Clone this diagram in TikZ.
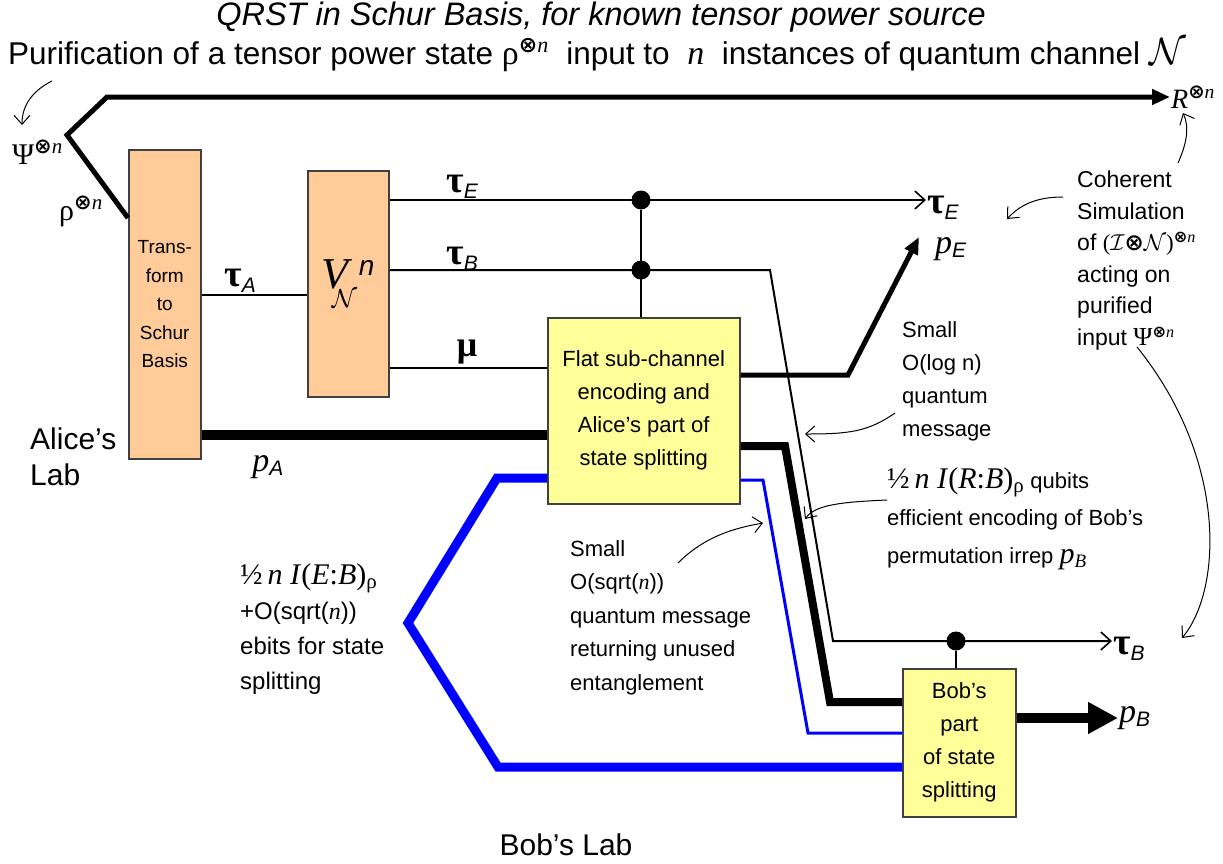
\RequirePackage{fix-cm}
\documentclass[tikz,border=0pt]{standalone}
\usepackage{fontspec}
\setmainfont{Liberation Sans}
\newfontfamily\qsym{Liberation Serif}
\newfontfamily\qdej{DejaVu Sans}
\usepackage{tikz}
\usetikzlibrary{arrows.meta}
\definecolor{qrstPeach}{HTML}{FFCC99}
\definecolor{qrstYellow}{HTML}{FFFF99}
\definecolor{qrstBlue}{HTML}{0000FF}
\definecolor{qrstEdge}{HTML}{404040}
\newcommand{\otn}{\textsuperscript{{\qdej\bfseries ⊗}{\qsym\itshape n}}}
\newcommand{\taulbl}[1]{{\fontsize{38}{38}\selectfont\qsym\bfseries τ}\raisebox{-6pt}{\fontsize{21}{21}\selectfont\itshape #1}}
\newcommand{\plbl}[1]{{\fontsize{34}{34}\selectfont\qsym\itshape p}\raisebox{-4pt}{\fontsize{21}{21}\selectfont\itshape #1}}

\begin{document}
\begin{tikzpicture}[x=1pt, y=-1pt,
  box/.style={draw=qrstEdge, line width=1.5pt, inner sep=0pt, align=center, anchor=north west},
  lbl/.style={inner sep=1pt},
  txt/.style={inner sep=0pt, align=left, anchor=north west},
  wire/.style={line width=2pt},
  barb/.style={-{Straight Barb[length=10pt,width=18pt,line width=1.6pt]}},
  note/.style={line width=1pt, -{Straight Barb[length=9pt,width=16pt,line width=1pt]}},
  dot/.style={circle, fill=black, inner sep=0pt, minimum size=19pt}]
  \useasboundingbox (0,0) rectangle (1223,863);

  % Title zone
  \node[inner sep=0pt, font=\fontsize{32.5}{36}\selectfont\itshape] (title) at (601,17) {QRST in Schur Basis, for known tensor power source};
  \node[inner sep=0pt, anchor=base west, font=\fontsize{31.5}{36}\selectfont] (purif) at (8,64)
    {Purification of a tensor power state {\fontsize{34}{34}\selectfont\qsym ρ}\otn\ \ input to \ {\fontsize{34}{34}\selectfont\qsym\itshape n} \ instances of quantum channel {\fontsize{38}{38}\selectfont$\mathcal{N}$}};

  % Boxes
  \node[box, fill=qrstPeach, minimum width=72pt, minimum height=309pt, font=\fontsize{19}{28.5}\selectfont] (trans) at (128,149) {Trans-\\form\\to\\Schur\\Basis};
  \node[box, fill=qrstPeach, minimum width=81pt, minimum height=226pt] (vch) at (307,170)
    {{\fontsize{44}{44}\selectfont\qsym\itshape V}\kern-17pt\raisebox{-19pt}{\fontsize{26}{26}\selectfont$\mathcal{N}$}\kern2pt\raisebox{13pt}{\fontsize{28}{28}\selectfont\itshape n}};
  \node[box, fill=qrstYellow, minimum width=192pt, minimum height=186pt, font=\fontsize{22}{33}\selectfont] (flat) at (547,317) {Flat sub-channel\\encoding and\\Alice’s part of\\state splitting};
  \node[box, fill=qrstYellow, minimum width=113pt, minimum height=148pt, font=\fontsize{22}{33}\selectfont] (bob) at (902,668) {Bob’s\\part\\of state\\splitting};

  % Control dots
  \node[dot] (dE) at (641,200) {};
  \node[dot] (dB) at (641,270) {};
  \node[dot] (dBob) at (956,641) {};

  % Wire labels
  \node[lbl, anchor=west, font=\fontsize{28}{28}\selectfont] (Rn) at (1170,97) {{\qsym\itshape R}\otn};
  \node[lbl, anchor=east, font=\fontsize{30}{30}\selectfont] (psi) at (64,152) {{\qsym Ψ}\otn};
  \node[lbl, anchor=east, font=\fontsize{30}{30}\selectfont] (rho) at (104,211) {{\qsym ρ}\otn};
  \node[lbl] (tauA) at (240,281) {\taulbl{A}};
  \node[lbl] (tauE) at (462,187) {\taulbl{E}};
  \node[lbl] (tauB) at (462,259) {\taulbl{B}};
  \node[lbl, font=\fontsize{36}{36}\selectfont\qsym\bfseries] (mu) at (467,352) {μ};
  \node[lbl] (pA) at (268,467) {\plbl{A}};
  \node[lbl, anchor=west] (tauEo) at (926,208) {\taulbl{E}};
  \node[lbl, anchor=west] (pE) at (934,249) {\plbl{E}};
  \node[lbl, anchor=west] (tauBo) at (1112,649) {\taulbl{B}};
  \node[lbl, anchor=west] (pB) at (1118,718) {\plbl{B}};

  % Levels and corners
  \coordinate (apex) at (67,135);
  \coordinate (yR) at (0,218);
  \coordinate (yA) at (0,295);
  \coordinate (yMu) at (0,368);
  \coordinate (yPE) at (0,375);
  \coordinate (yPA) at (0,435);
  \coordinate (yK) at (0,446);
  \coordinate (yBT) at (0,478);
  \coordinate (yBt) at (0,480);
  \coordinate (yK2) at (0,702);
  \coordinate (yPB) at (0,718);
  \coordinate (yBt2) at (0,733);
  \coordinate (yBT2) at (0,767);
  \coordinate (pEtip) at (919,237);

  % Wires
  \draw[line width=5pt, -{Triangle[length=18pt,width=15pt]}] (trans.west |- yR) -- (apex) -- (107,97) -- (Rn.west);
  \draw[wire] (trans.east |- yA) -- (vch.west |- yA);
  \draw[wire, barb] (vch.east |- dE) -- (tauEo.west |- dE);
  \draw[wire, barb] (vch.east |- dB) -- (770,270) -- (833,641) -- (tauBo.west |- dBob);
  \draw[wire] (vch.east |- yMu) -- (flat.west |- yMu);
  \draw[wire] (dE) -- (dE |- flat.north);
  \draw[wire] (dBob) -- (dBob |- bob.north);
  \draw[line width=10pt] (trans.east |- yPA) -- (flat.west |- yPA);
  \draw[line width=5pt, -{Triangle[length=17pt,width=14pt]}] (flat.east |- yPE) -- (848,375) -- (pEtip);
  \draw[line width=8pt] (flat.east |- yK) -- (785,446) -- (830,702) -- (bob.west |- yK2);
  \draw[qrstBlue, line width=3pt] (flat.east |- yBt) -- (763,480) -- (808,733) -- (bob.west |- yBt2);
  \draw[qrstBlue, line width=9pt] (flat.west |- yBT) -- (497,478) -- (408,623) -- (498,767) -- (bob.west |- yBT2);
  \draw[line width=10pt, -{Triangle[length=30pt,width=30pt]}] (bob.east |- yPB) -- (pB.west);

  % Notes
  \node[txt, font=\fontsize{30}{36}\selectfont] (alice) at (30,428) {Alice’s\\Lab};
  \node[font=\fontsize{30}{36}\selectfont] (bobLab) at (566,845) {Bob’s Lab};
  \node[txt, font=\fontsize{22}{33}\selectfont] (logNote) at (902,321) {Small\\O(log n)\\quantum\\message};
  \node[txt, font=\fontsize{22}{37.5}\selectfont] (rbNote) at (887,467)
    {{\fontsize{30}{30}\selectfont\qsym ½\,\textit{n I}(\textit{R}:\textit{B})\textsubscript{ρ}} qubits\\efficient encoding of Bob’s\\permutation irrep {\fontsize{30}{30}\selectfont\qsym\itshape p}\raisebox{-4pt}{\fontsize{19}{19}\selectfont\qsym\itshape B}};
  \node[txt, font=\fontsize{22}{33.5}\selectfont] (sqrtNote) at (570,540) {Small\\O(sqrt({\qsym\itshape n}))\\quantum message\\returning unused\\entanglement};
  \node[txt, font=\fontsize{24}{35}\selectfont] (ebNote) at (240,563)
    {{\fontsize{30}{30}\selectfont\qsym ½\,\textit{n I}(\textit{E}:\textit{B})\textsubscript{ρ}}\\+O(sqrt({\qsym\itshape n}))\\ebits for state\\splitting};
  \node[txt, font=\fontsize{23}{31.5}\selectfont] (cohNote) at (1077,171)
    {Coherent\\Simulation\\of {\qsym(}$\mathcal{I}${\qdej\bfseries ⊗}$\mathcal{N}${\qsym)}\otn\\acting on\\purified\\input {\fontsize{26}{26}\selectfont\qsym Ψ}\otn};

  % Note arrows
  \coordinate (pa1) at (52,81);
  \coordinate (pa2) at (22,125);
  \draw[note] (pa1) .. controls (34,90) and (22,104) .. (pa2);
  \coordinate (ca1) at (1063,197);
  \coordinate (ca2) at (1007,219);
  \draw[note] (ca1) .. controls (1036,197) and (1020,205) .. (ca2);
  \coordinate (cb1) at (1178,163);
  \coordinate (cb2) at (1183,113);
  \draw[note] (cb1) .. controls (1186,145) and (1190,128) .. (cb2);
  \coordinate (cc1) at (1137,347);
  \coordinate (cc2) at (1182,638);
  \draw[note] (cc1) .. controls (1228,460) and (1222,590) .. (cc2);
  \coordinate (la1) at (895,413);
  \coordinate (la2) at (805,434);
  \draw[note] (la1) .. controls (868,432) and (848,434) .. (la2);
  \coordinate (ra1) at (887,500);
  \coordinate (ra2) at (805,519);
  \draw[note] (ra1) .. controls (840,502) and (815,505) .. (ra2);
  \coordinate (sa1) at (678,563);
  \coordinate (sa2) at (763,523);
  \draw[note] (sa1) .. controls (705,536) and (735,528) .. (sa2);
\end{tikzpicture}
\end{document}
